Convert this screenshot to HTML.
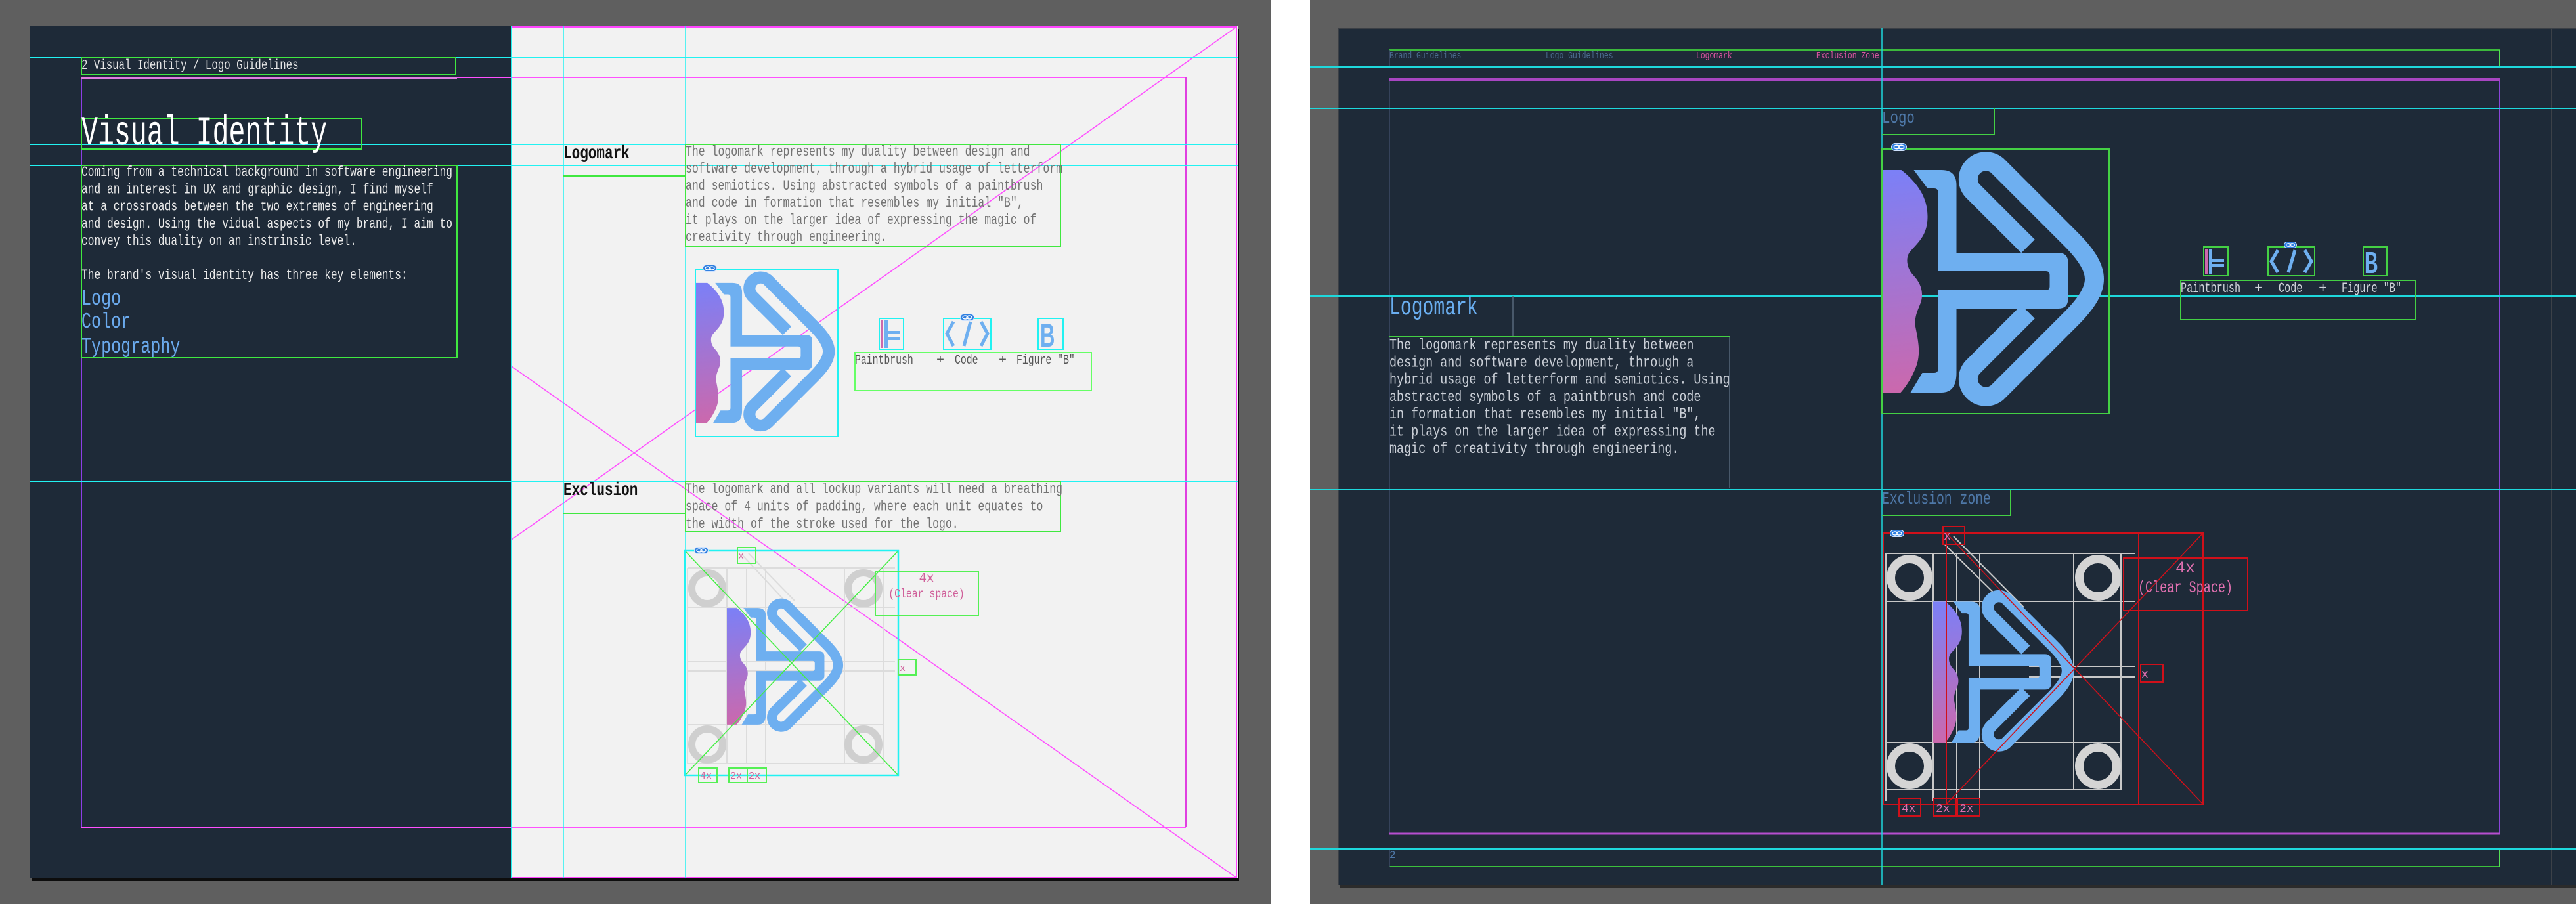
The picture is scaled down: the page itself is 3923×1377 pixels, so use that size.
<!DOCTYPE html>
<html><head><meta charset="utf-8"><style>
html,body{margin:0;padding:0;background:#5f5f5f;}
svg{display:block;}
text{font-family:"Liberation Mono","DejaVu Sans Mono",monospace;}
</style></head><body>
<svg width="3923" height="1377" viewBox="0 0 3923 1377" xmlns="http://www.w3.org/2000/svg">
<defs>
<linearGradient id="gr" gradientUnits="userSpaceOnUse" x1="20" y1="39" x2="60" y2="378">
<stop offset="0" stop-color="#7b80f7"/><stop offset="1" stop-color="#cc68ac"/></linearGradient>
<symbol id="logo" viewBox="7 7 345 403">
<path fill="url(#gr)" d="M7,39 L36,39 C60,58 76,80 76,110 C76,140 60,150 48,165 C42,175 45,190 55,200 C66,212 70,225 66,240 C60,255 55,265 58,280 C62,300 66,320 58,340 C52,355 44,368 35,378 L7,378 Z"/>
<path fill="#6eaff0" fill-rule="evenodd" d="M55,39 L97,39 Q120,39 120,62 L120,165 L275,165 Q290,165 290,180 L290,235 Q290,250 275,250 L120,250 L120,348 Q120,378 97,378 L50,378 L68,348 L86,348 Q92,348 92,342 L92,73 Q92,67 86,67 L76,67 Z M92,193 L256,193 Q262,193 262,199 L262,216 Q262,222 256,222 L92,222 Z"/>
<path fill="none" stroke="#6eaff0" stroke-width="29" stroke-linejoin="round" d="M229,155 L144,70 A27,27 0 0 1 182,32 L295,145 C322,172 330,190 330,205 C330,220 322,238 295,265 L182,378 A27,27 0 0 1 144,340 L229,255"/>
</symbol>
<symbol id="link" viewBox="0 0 22 11">
<rect x="0.5" y="0.5" width="21" height="10" rx="5" fill="#2f7fe0" stroke="#cfe3ff" stroke-width="1"/>
<ellipse cx="8" cy="5.5" rx="4" ry="2.5" fill="none" stroke="#fff" stroke-width="1.4"/>
<ellipse cx="14" cy="5.5" rx="4" ry="2.5" fill="none" stroke="#fff" stroke-width="1.4"/>
</symbol>
</defs>

<rect x="0" y="0" width="3923" height="1377" fill="#5f5f5f"/>
<rect x="1935" y="0" width="60" height="1377" fill="#ffffff"/>

<!-- LEFT PANEL -->
<rect x="49" y="44" width="1838" height="1298" fill="#0d0d0d"/>
<rect x="46" y="40" width="733" height="1298" fill="#1e2a38"/>
<rect x="779" y="40" width="1106" height="1298" fill="#f2f2f2"/>
<rect x="779" y="41" width="1104" height="1296" fill="none" stroke="#ff44ff" stroke-width="2"/>

<line x1="1883" y1="41" x2="779" y2="822" stroke="#ff50ff" stroke-width="1.6"/>
<line x1="779" y1="558" x2="1883" y2="1337" stroke="#ff50ff" stroke-width="1.6"/>

<line x1="124" y1="118" x2="1806" y2="118" stroke="#ff50ff" stroke-width="2"/>
<line x1="124" y1="118" x2="124" y2="1260" stroke="#8d3ee6" stroke-width="2"/>
<line x1="1806" y1="118" x2="1806" y2="1260" stroke="#e040e0" stroke-width="2"/>
<line x1="124" y1="1260" x2="1806" y2="1260" stroke="#ff50ff" stroke-width="2"/>
<line x1="124" y1="119" x2="696" y2="119" stroke="#e27ee2" stroke-width="4"/>

<g stroke="#22f2f2" stroke-width="2">
<line x1="46" y1="88" x2="1885" y2="88"/>
<line x1="46" y1="220" x2="1885" y2="220"/>
<line x1="46" y1="252" x2="1885" y2="252"/>
<line x1="46" y1="733" x2="1885" y2="733"/>
<line x1="779" y1="40" x2="779" y2="1338"/>
<line x1="858" y1="40" x2="858" y2="1338" stroke-width="1.5"/>
<line x1="1044" y1="40" x2="1044" y2="1338" stroke-width="1.5"/>
</g>

<g fill="none" stroke="#40e840" stroke-width="2">
<rect x="124" y="88" width="570" height="25"/>
<rect x="124" y="180" width="427" height="47"/>
<rect x="124" y="252" width="572" height="293"/>
<line x1="858" y1="268" x2="1044" y2="268"/>
<rect x="1044" y="220" width="571" height="155"/>
<rect x="1302" y="537" width="360" height="58" stroke="#66ff66"/>
<line x1="858" y1="782" x2="1044" y2="782"/>
<rect x="1044" y="733" width="571" height="77"/>
</g>

<text transform="translate(124,105) scale(0.75,1)" font-size="21" fill="#e6e6e6">2 Visual Identity / Logo Guidelines</text>
<text transform="translate(124,220) scale(0.66,1)" font-size="63" fill="#ffffff">Visual Identity</text>
<text transform="translate(124,268) scale(0.738,1)" font-size="22" fill="#eaeaea">
<tspan x="0" dy="0">Coming from a technical background in software engineering</tspan>
<tspan x="0" dy="26.3">and an interest in UX and graphic design, I find myself</tspan>
<tspan x="0" dy="26.3">at a crossroads between the two extremes of engineering</tspan>
<tspan x="0" dy="26.3">and design. Using the vidual aspects of my brand, I aim to</tspan>
<tspan x="0" dy="26.3">convey this duality on an instrinsic level.</tspan>
<tspan x="0" dy="52">The brand's visual identity has three key elements:</tspan>
</text>
<text transform="translate(124,464) scale(0.76,1)" font-size="33" fill="#6aa9ec">
<tspan x="0" dy="0">Logo</tspan><tspan x="0" dy="35">Color</tspan><tspan x="0" dy="38">Typography</tspan></text>

<text transform="translate(858,241) scale(0.75,1)" font-size="28" font-weight="bold" fill="#111">Logomark</text>
<text transform="translate(1044,237) scale(0.75,1)" font-size="22" fill="#737373">
<tspan x="0" dy="0">The logomark represents my duality between design and</tspan>
<tspan x="0" dy="26">software development, through a hybrid usage of letterform</tspan>
<tspan x="0" dy="26">and semiotics. Using abstracted symbols of a paintbrush</tspan>
<tspan x="0" dy="26">and code in formation that resembles my initial "B",</tspan>
<tspan x="0" dy="26">it plays on the larger idea of expressing the magic of</tspan>
<tspan x="0" dy="26">creativity through engineering.</tspan>
</text>
<text transform="translate(858,754) scale(0.75,1)" font-size="28" font-weight="bold" fill="#111">Exclusion</text>
<text transform="translate(1044,751) scale(0.75,1)" font-size="22" fill="#737373">
<tspan x="0" dy="0">The logomark and all lockup variants will need a breathing</tspan>
<tspan x="0" dy="26.5">space of 4 units of padding, where each unit equates to</tspan>
<tspan x="0" dy="26.5">the width of the stroke used for the logo.</tspan>
</text>

<use href="#logo" x="1059" y="410" width="217" height="255"/>
<rect x="1059" y="410" width="217" height="255" fill="none" stroke="#22f2f2" stroke-width="2"/>
<use href="#link" x="1070" y="403" width="22" height="11"/>

<g>
<rect x="1341" y="488" width="4" height="42" fill="url(#gr)"/>
<path d="M1347,488 h5 v42 h-5 z M1352,504 h18 v5 h-18 z M1352,513 h18 v5 h-18 z" fill="#6eaff0"/>
<rect x="1339" y="485" width="37" height="47" fill="none" stroke="#22f2f2" stroke-width="2"/>
<polyline points="1452,490 1442,508 1452,527" fill="none" stroke="#6eaff0" stroke-width="5"/>
<line x1="1478" y1="490" x2="1468" y2="527" stroke="#6eaff0" stroke-width="5"/>
<polyline points="1494,490 1504,508 1494,527" fill="none" stroke="#6eaff0" stroke-width="5"/>
<rect x="1437" y="485" width="72" height="47" fill="none" stroke="#22f2f2" stroke-width="2"/>
<use href="#link" x="1462" y="478" width="22" height="11"/>
<text font-size="50" font-weight="bold" fill="#6eaff0" transform="translate(1584,528) scale(0.62,1)" style="font-family:'Liberation Sans',sans-serif">B</text>
<rect x="1581" y="485" width="38" height="47" fill="none" stroke="#22f2f2" stroke-width="2"/>
</g>
<g font-size="20" fill="#555" transform="translate(0,554)">
<text transform="translate(1302,0) scale(0.74,1)">Paintbrush</text>
<text x="1426">+</text>
<text transform="translate(1454,0) scale(0.74,1)">Code</text>
<text x="1521">+</text>
<text transform="translate(1548,0) scale(0.74,1)">Figure "B"</text>
</g>

<g stroke="#dcdcdc" stroke-width="2" fill="none">
<line x1="1047" y1="865" x2="1363" y2="865"/><line x1="1047" y1="925" x2="1363" y2="925"/>
<line x1="1047" y1="1008" x2="1363" y2="1008"/><line x1="1047" y1="1022" x2="1363" y2="1022"/>
<line x1="1047" y1="1104" x2="1345" y2="1104"/><line x1="1047" y1="1163" x2="1345" y2="1163"/>
<line x1="1047" y1="865" x2="1047" y2="1163"/><line x1="1107" y1="865" x2="1107" y2="1163"/>
<line x1="1137" y1="865" x2="1137" y2="1163"/><line x1="1166" y1="865" x2="1166" y2="1163"/>
<line x1="1286" y1="865" x2="1286" y2="1163"/><line x1="1345" y1="865" x2="1345" y2="1163"/>
<line x1="1130" y1="845" x2="1195" y2="915"/><line x1="1140" y1="843" x2="1210" y2="915"/>
</g>
<g fill="none" stroke="#cfcfcf" stroke-width="11">
<circle cx="1077" cy="896" r="23.5"/><circle cx="1315" cy="896" r="23.5"/>
<circle cx="1077" cy="1134" r="23.5"/><circle cx="1315" cy="1134" r="23.5"/>
</g>
<use href="#logo" x="1107" y="909" width="181" height="212"/>
<g stroke="#44ee44" stroke-width="1.5">
<line x1="1043" y1="839" x2="1368" y2="1181"/><line x1="1368" y1="839" x2="1043" y2="1181"/>
</g>
<rect x="1043" y="839" width="325" height="342" fill="none" stroke="#22f2f2" stroke-width="2.5"/>
<use href="#link" x="1057" y="833" width="22" height="11"/>
<g fill="none" stroke="#55f055" stroke-width="2">
<rect x="1123" y="834" width="28" height="24"/>
<rect x="1333" y="871" width="157" height="67"/>
<rect x="1368" y="1005" width="27" height="23"/>
<rect x="1064" y="1170" width="28" height="22"/>
<rect x="1110" y="1170" width="28" height="22"/>
<rect x="1138" y="1170" width="29" height="22"/>
</g>
<g fill="#d0609a" font-size="15">
<text x="1124" y="851">x</text>
<text x="1370" y="1022">x</text>
<text x="1066" y="1186">4x</text>
<text x="1112" y="1186">2x</text>
<text x="1140" y="1186">2x</text>
<text x="1411" y="886" font-size="19" text-anchor="middle">4x</text>
<text x="1411" y="910" font-size="19" text-anchor="middle" transform="translate(1411,0) scale(0.78,1) translate(-1411,0)">(Clear space)</text>
</g>

<!-- RIGHT PANEL -->
<rect x="2041" y="47" width="1882" height="1305" fill="#2b2b2b"/>
<rect x="2038" y="43" width="1885" height="1305" fill="#1e2a38"/>
<line x1="2038" y1="43" x2="3923" y2="43" stroke="#3b3f45" stroke-width="2"/>
<line x1="2038" y1="43" x2="2038" y2="1348" stroke="#3b3f45" stroke-width="2"/>
<line x1="3886" y1="43" x2="3886" y2="1348" stroke="#3c4148" stroke-width="2"/>

<line x1="2116" y1="121" x2="2116" y2="1270" stroke="#3d4a66" stroke-width="1.5"/>
<line x1="3807" y1="121" x2="3807" y2="1270" stroke="#8a44d8" stroke-width="2"/>
<line x1="2116" y1="121" x2="3807" y2="121" stroke="#a846c2" stroke-width="4"/>
<line x1="2116" y1="1270" x2="3807" y2="1270" stroke="#b64ed0" stroke-width="3"/>
<line x1="2116" y1="76" x2="3807" y2="76" stroke="#3cb83c" stroke-width="2"/>
<line x1="3807" y1="76" x2="3807" y2="102" stroke="#55e055" stroke-width="2"/>
<line x1="2116" y1="76" x2="2116" y2="102" stroke="#3d4a66" stroke-width="1.5"/>
<line x1="2116" y1="1320" x2="3807" y2="1320" stroke="#3cc03c" stroke-width="2"/>
<line x1="3807" y1="1293" x2="3807" y2="1320" stroke="#55e055" stroke-width="2"/>
<line x1="2116" y1="1293" x2="2116" y2="1320" stroke="#3d4a66" stroke-width="1.5"/>

<g stroke="#1ed8dc" stroke-width="2">
<line x1="1995" y1="102" x2="3923" y2="102"/>
<line x1="1995" y1="165" x2="3923" y2="165"/>
<line x1="1995" y1="451" x2="3923" y2="451"/>
<line x1="1995" y1="746" x2="3923" y2="746"/>
<line x1="1995" y1="1293" x2="3923" y2="1293"/>
<line x1="2866" y1="43" x2="2866" y2="1348" stroke-width="1.5"/>
</g>

<g font-size="15">
<text transform="translate(2116,89) scale(0.76,1)" fill="#4a6a8c">Brand Guidelines</text>
<text transform="translate(2354,89) scale(0.76,1)" fill="#4a6a8c">Logo Guidelines</text>
<text transform="translate(2583,89) scale(0.76,1)" fill="#d9559f">Logomark</text>
<text transform="translate(2766,89) scale(0.76,1)" fill="#d9559f">Exclusion Zone</text>
</g>

<text transform="translate(2866,187) scale(0.8,1)" font-size="26" fill="#4e78a8">Logo</text>
<polyline points="3037,165 3037,205 2866,205" fill="none" stroke="#44d044" stroke-width="2"/>

<use href="#logo" x="2866" y="227" width="346" height="403"/>
<rect x="2866" y="227" width="346" height="403" fill="none" stroke="#44d044" stroke-width="2"/>
<use href="#link" x="2880" y="218" width="24" height="12"/>

<g>
<rect x="3358" y="379" width="4" height="39" fill="url(#gr)"/>
<path d="M3364,379 h5 v39 h-5 z M3369,394 h18 v5 h-18 z M3369,402 h18 v5 h-18 z" fill="#6eaff0"/>
<rect x="3356" y="376" width="37" height="44" fill="none" stroke="#44d044" stroke-width="2"/>
<polyline points="3469,381 3459,398 3469,415" fill="none" stroke="#6eaff0" stroke-width="5"/>
<line x1="3495" y1="381" x2="3485" y2="415" stroke="#6eaff0" stroke-width="5"/>
<polyline points="3510,381 3520,398 3510,415" fill="none" stroke="#6eaff0" stroke-width="5"/>
<rect x="3454" y="376" width="71" height="44" fill="none" stroke="#44d044" stroke-width="2"/>
<use href="#link" x="3478" y="368" width="20" height="10"/>
<text font-size="46" font-weight="bold" fill="#6eaff0" transform="translate(3601,416) scale(0.62,1)" style="font-family:'Liberation Sans',sans-serif">B</text>
<rect x="3599" y="376" width="36" height="44" fill="none" stroke="#44d044" stroke-width="2"/>
<rect x="3321" y="427" width="358" height="60" fill="none" stroke="#44d044" stroke-width="2"/>
</g>
<g font-size="22" fill="#d0d4da" transform="translate(0,445)">
<text transform="translate(3321,0) scale(0.69,1)">Paintbrush</text>
<text x="3433">+</text>
<text transform="translate(3470,0) scale(0.69,1)">Code</text>
<text x="3531">+</text>
<text transform="translate(3566,0) scale(0.69,1)">Figure "B"</text>
</g>

<text transform="translate(2116,479) scale(0.72,1)" font-size="39" fill="#6aaef0">Logomark</text>
<line x1="2304" y1="451" x2="2304" y2="513" stroke="#56687a" stroke-width="1.5"/>
<line x1="2116" y1="513" x2="2634" y2="513" stroke="#44d044" stroke-width="2"/>
<line x1="2634" y1="513" x2="2634" y2="744" stroke="#56687a" stroke-width="1.5"/>
<text transform="translate(2116,532) scale(0.8,1)" font-size="23" fill="#c9ced6">
<tspan x="0" dy="0">The logomark represents my duality between</tspan>
<tspan x="0" dy="26.3">design and software development, through a</tspan>
<tspan x="0" dy="26.3">hybrid usage of letterform and semiotics. Using</tspan>
<tspan x="0" dy="26.3">abstracted symbols of a paintbrush and code</tspan>
<tspan x="0" dy="26.3">in formation that resembles my initial "B",</tspan>
<tspan x="0" dy="26.3">it plays on the larger idea of expressing the</tspan>
<tspan x="0" dy="26.3">magic of creativity through engineering.</tspan>
</text>

<text transform="translate(2866,767) scale(0.76,1)" font-size="26" fill="#4e78a8">Exclusion zone</text>
<polyline points="3062,746 3062,785 2866,785" fill="none" stroke="#44d044" stroke-width="2"/>

<g stroke="#c8c8c8" stroke-width="2" fill="none">
<line x1="2872" y1="843" x2="3252" y2="843"/><line x1="2872" y1="916" x2="3252" y2="916"/>
<line x1="3090" y1="1015" x2="3252" y2="1015"/><line x1="3090" y1="1031" x2="3252" y2="1031"/>
<line x1="2872" y1="1131" x2="3230" y2="1131"/><line x1="2872" y1="1203" x2="3230" y2="1203"/>
<line x1="2872" y1="843" x2="2872" y2="1220"/><line x1="2944" y1="843" x2="2944" y2="1220"/>
<line x1="2980" y1="843" x2="2980" y2="1220"/><line x1="3015" y1="843" x2="3015" y2="1220"/>
<line x1="3158" y1="843" x2="3158" y2="1203"/><line x1="3230" y1="843" x2="3230" y2="1203"/>
<line x1="2975" y1="817" x2="3082" y2="925"/><line x1="2962" y1="830" x2="3071" y2="937"/>
</g>
<g fill="none" stroke="#d4d4d4" stroke-width="13">
<circle cx="2908" cy="880" r="28.5"/><circle cx="3195" cy="880" r="28.5"/>
<circle cx="2908" cy="1167" r="28.5"/><circle cx="3195" cy="1167" r="28.5"/>
</g>
<use href="#logo" x="2944" y="896" width="219" height="256"/>
<g stroke="#d0101a" stroke-width="2" fill="none">
<rect x="2868" y="812" width="487" height="413"/>
<line x1="3257" y1="812" x2="3257" y2="1225"/>
<line x1="2964" y1="812" x2="2964" y2="1225"/>
<line x1="3355" y1="812" x2="2964" y2="1225" stroke-width="1.5"/>
<line x1="3355" y1="1225" x2="2964" y2="812" stroke-width="1.5"/>
<rect x="2959" y="802" width="33" height="27"/>
<rect x="3234" y="850" width="189" height="80"/>
<rect x="3260" y="1012" width="34" height="27"/>
<rect x="2892" y="1216" width="33" height="27"/>
<rect x="2945" y="1216" width="34" height="27"/>
<rect x="2981" y="1216" width="34" height="27"/>
</g>
<use href="#link" x="2878" y="807" width="22" height="11"/>
<g fill="#e070b0" font-size="18">
<text x="2960" y="822">x</text>
<text x="3261" y="1032">x</text>
<text x="2896" y="1237">4x</text>
<text x="2948" y="1237">2x</text>
<text x="2984" y="1237">2x</text>
<text x="3328" y="872" font-size="25" text-anchor="middle">4x</text>
<text x="3328" y="902" font-size="25" text-anchor="middle" transform="translate(3328,0) scale(0.74,1) translate(-3328,0)">(Clear Space)</text>
</g>

<text x="2116" y="1307" font-size="16" fill="#4e78a8">2</text>
</svg>
</body></html>
